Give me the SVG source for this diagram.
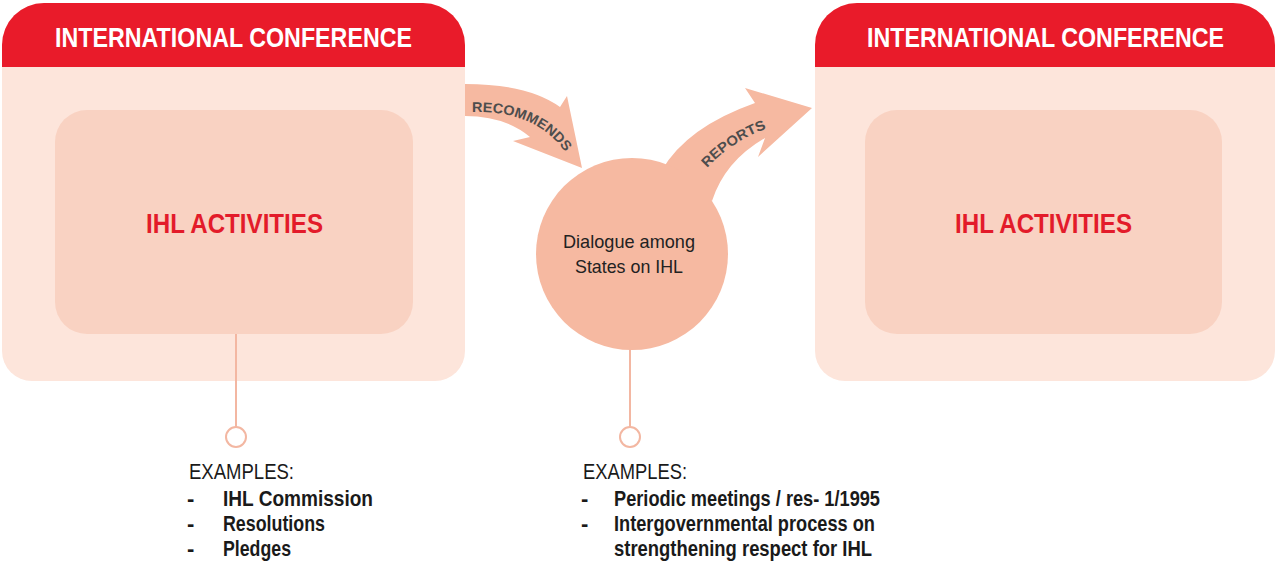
<svg xmlns="http://www.w3.org/2000/svg" width="1275" height="562" viewBox="0 0 1275 562">
<style>
.body{fill:#fde5db}
.head{fill:#e91b2a}
.inner{fill:#f9d2c2}
.salmon{fill:#f6b9a1}
.htxt{font-family:"Liberation Sans",Arial,sans-serif;font-weight:bold;font-size:28px;fill:#ffffff}
.ihl{font-family:"Liberation Sans",Arial,sans-serif;font-weight:bold;font-size:28px;fill:#e31b2a}
.ctxt{font-family:"Liberation Sans",Arial,sans-serif;font-size:19px;fill:#222222}
.atxt{font-family:"Liberation Sans",Arial,sans-serif;font-weight:bold;font-size:14px;fill:#4d4d4d}
.ex{font-family:"Liberation Sans",Arial,sans-serif;font-size:22px;fill:#1a1a1a}
.it{font-family:"Liberation Sans",Arial,sans-serif;font-weight:bold;font-size:22px;fill:#1a1a1a}
.conn{stroke:#f3b7a2;stroke-width:2;fill:none}
.dot{stroke:#f3b7a2;stroke-width:2;fill:#ffffff}
</style>
<defs>
<path id="recPath" d="M 472 112 Q 538 110 568 156"/>
<path id="repPath" d="M 707 168 Q 735 138 774 126"/>
</defs>

<g id="left-conference">
<path class="body" d="M 2 45 A 42 42 0 0 1 44 3 H 423 A 42 42 0 0 1 465 45 V 351 A 30 30 0 0 1 435 381 H 32 A 30 30 0 0 1 2 351 Z"/>
<path class="head" d="M 2 67 V 45 A 42 42 0 0 1 44 3 H 423 A 42 42 0 0 1 465 45 V 67 Z"/>
<text class="htxt" x="55" y="47" textLength="357" lengthAdjust="spacingAndGlyphs">INTERNATIONAL CONFERENCE</text>
</g>
<g id="left-ihl">
<rect class="inner" x="55" y="110" width="358" height="224" rx="32"/>
<text class="ihl" x="146" y="233" textLength="177" lengthAdjust="spacingAndGlyphs">IHL ACTIVITIES</text>
</g>

<g id="right-conference">
<path class="body" d="M 815 45 A 42 42 0 0 1 857 3 H 1233 A 42 42 0 0 1 1275 45 V 351 A 30 30 0 0 1 1245 381 H 845 A 30 30 0 0 1 815 351 Z"/>
<path class="head" d="M 815 67 V 45 A 42 42 0 0 1 857 3 H 1233 A 42 42 0 0 1 1275 45 V 67 Z"/>
<text class="htxt" x="867" y="47" textLength="357" lengthAdjust="spacingAndGlyphs">INTERNATIONAL CONFERENCE</text>
</g>
<g id="right-ihl">
<rect class="inner" x="865" y="110" width="357" height="224" rx="32"/>
<text class="ihl" x="955" y="233" textLength="177" lengthAdjust="spacingAndGlyphs">IHL ACTIVITIES</text>
</g>

<g id="connectors">
<g id="recommends-arrow">
<path class="salmon" d="M 465 84 Q 528 84 560 107 L 567 96 L 582 168 L 513 141 L 530 137 Q 505 116 465 116 Z"/>
<text class="atxt"><textPath href="#recPath" textLength="106" lengthAdjust="spacingAndGlyphs">RECOMMENDS</textPath></text>
</g>
<g id="reports-arrow">
<path class="salmon" d="M 662 170 Q 687 127 755 103 L 745 88 L 812 108 L 758 157 L 765 138 Q 725 161 712 201 Z"/>
<text class="atxt"><textPath href="#repPath" textLength="72" lengthAdjust="spacingAndGlyphs">REPORTS</textPath></text>
</g>
<line class="conn" x1="236" y1="334" x2="236" y2="427"/>
<circle class="dot" cx="236" cy="437" r="10"/>
<line class="conn" x1="630" y1="349" x2="630" y2="427"/>
<circle class="dot" cx="630" cy="437" r="10"/>
</g>

<g id="dialogue">
<circle class="salmon" cx="632" cy="254" r="96"/>
<text class="ctxt" x="563" y="248" textLength="132" lengthAdjust="spacingAndGlyphs">Dialogue among</text>
<text class="ctxt" x="575" y="273" textLength="108" lengthAdjust="spacingAndGlyphs">States on IHL</text>
</g>

<g id="left-examples">
<text class="ex" x="189" y="479" textLength="105" lengthAdjust="spacingAndGlyphs">EXAMPLES:</text>
<text class="it" x="187" y="506">-</text>
<text class="it" x="223" y="506" textLength="150" lengthAdjust="spacingAndGlyphs">IHL Commission</text>
<text class="it" x="187" y="531">-</text>
<text class="it" x="223" y="531" textLength="102" lengthAdjust="spacingAndGlyphs">Resolutions</text>
<text class="it" x="187" y="556">-</text>
<text class="it" x="223" y="556" textLength="68" lengthAdjust="spacingAndGlyphs">Pledges</text>
</g>

<g id="center-examples">
<text class="ex" x="583" y="479" textLength="104" lengthAdjust="spacingAndGlyphs">EXAMPLES:</text>
<text class="it" x="581" y="506">-</text>
<text class="it" x="614" y="506" textLength="266" lengthAdjust="spacingAndGlyphs">Periodic meetings / res- 1/1995</text>
<text class="it" x="581" y="531">-</text>
<text class="it" x="614" y="531" textLength="261" lengthAdjust="spacingAndGlyphs">Intergovernmental process on</text>
<text class="it" x="614" y="556" textLength="258" lengthAdjust="spacingAndGlyphs">strengthening respect for IHL</text>
</g>
</svg>
